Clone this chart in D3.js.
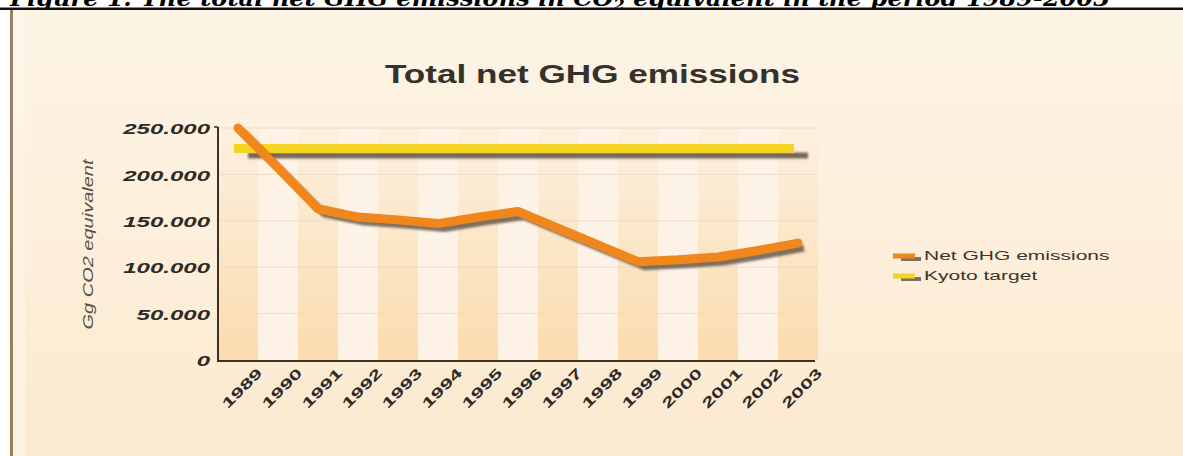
<!DOCTYPE html>
<html>
<head>
<meta charset="utf-8">
<script src="https://cdn.jsdelivr.net/npm/d3@7"></script>
<style>
    html, body { margin: 0; padding: 0; background: #ffffff; overflow: hidden; }
    svg { display: block; }
</style>
</head>
<body>
<script>

// years on the x-axis
var years = ["1989", "1990", "1991", "1992", "1993", "1994", "1995", "1996",
             "1997", "1998", "1999", "2000", "2001", "2002", "2003"];

// net GHG emissions in Gg CO2 equivalent
var netEmissions = [250000, 207000, 163000, 154000, 151000, 147000, 154000, 160000,
                    142000, 124000, 106000, 108000, 111000, 118000, 126000];

// Kyoto target, the same for every year
var kyotoTarget = [228000, 228000, 228000, 228000, 228000, 228000, 228000, 228000,
                   228000, 228000, 228000, 228000, 228000, 228000, 228000];

// y-axis ticks and their labels
var yTicks = [0, 50000, 100000, 150000, 200000, 250000];
var yTickLabels = ["0", "50.000", "100.000", "150.000", "200.000", "250.000"];

var seriesNames = ["Net GHG emissions", "Kyoto target"];

window.onload = function() {
    makeGraph();
};

/*
 * Widen a text element by a factor, the picture uses a very wide font.
 */
function widen(sel, k)
{
    sel.each(function() {
        var len = this.getComputedTextLength();
        d3.select(this)
            .attr("textLength", len * k)
            .attr("lengthAdjust", "spacingAndGlyphs");
    });
}

function makeGraph()
{
    var width = 1183,
        height = 456,
        plot = {left: 218, right: 818, top: 128, bottom: 361};

    var svg = d3.select("body").append("svg")
        .attr("width", width)
        .attr("height", height);

    var defs = svg.append("defs");

    // background of the panel
    var bg = defs.append("linearGradient")
        .attr("id", "panelGrad")
        .attr("x1", 0).attr("y1", 0).attr("x2", 0).attr("y2", 1);
    bg.append("stop").attr("offset", "0%").attr("stop-color", "#fdf4e6");
    bg.append("stop").attr("offset", "100%").attr("stop-color", "#fcead0");

    // darker stripes
    var dark = defs.append("linearGradient")
        .attr("id", "darkGrad")
        .attr("x1", 0).attr("y1", 0).attr("x2", 0).attr("y2", 1);
    dark.append("stop").attr("offset", "0%").attr("stop-color", "#fcf0df");
    dark.append("stop").attr("offset", "100%").attr("stop-color", "#fbdcae");

    // lighter stripes
    var light = defs.append("linearGradient")
        .attr("id", "lightGrad")
        .attr("x1", 0).attr("y1", 0).attr("x2", 0).attr("y2", 1);
    light.append("stop").attr("offset", "0%").attr("stop-color", "#fdf3e6");
    light.append("stop").attr("offset", "100%").attr("stop-color", "#fdf1e6");

    // blurred drop shadow (user space, a flat line has no height)
    defs.append("filter")
        .attr("id", "blur")
        .attr("filterUnits", "userSpaceOnUse")
        .attr("x", 0).attr("y", 0)
        .attr("width", width).attr("height", height)
      .append("feGaussianBlur")
        .attr("stdDeviation", 1.2);

    // caption above the panel (cut off at the top, as in the picture)
    var caption = svg.append("text")
        .attr("x", 10)
        .attr("y", 6)
        .style("font-family", "'DejaVu Serif', serif")
        .style("font-weight", "bold")
        .style("font-style", "italic")
        .style("font-size", "22px")
        .style("fill", "#000");
    caption.append("tspan").text("Figure 1: The total net GHG emissions in CO");
    caption.append("tspan").attr("dy", 4).style("font-size", "15px").text("2");
    caption.append("tspan").attr("dy", -4).text(" equivalent in the period 1989-2003");
    caption.attr("textLength", 1100).attr("lengthAdjust", "spacingAndGlyphs");

    // black rule under the caption
    svg.append("rect")
        .attr("x", 0).attr("y", 7.5)
        .attr("width", width).attr("height", 2.5)
        .attr("fill", "#111");

    // panel
    svg.append("rect")
        .attr("x", 10).attr("y", 10)
        .attr("width", width - 10).attr("height", height - 10)
        .attr("fill", "url(#panelGrad)");

    svg.append("rect")
        .attr("x", 10).attr("y", 10)
        .attr("width", 3).attr("height", height - 10)
        .attr("fill", "#9a8060");

    svg.append("rect")
        .attr("x", 13).attr("y", 10)
        .attr("width", 12).attr("height", height - 10)
        .attr("fill", "#fef6ea")
        .attr("opacity", 0.6);

    // scales
    var x = d3.scaleBand()
        .domain(years)
        .range([plot.left, plot.right])
        .padding(0);

    var y = d3.scaleLinear()
        .domain([0, 250000])
        .range([plot.bottom - 1, plot.top]);

    // stripes behind the chart
    svg.selectAll(".stripe")
        .data(years)
        .enter().append("rect")
            .attr("class", "stripe")
            .attr("x", function(d) { return x(d); })
            .attr("y", y(250000))
            .attr("width", x.bandwidth())
            .attr("height", y(0) - y(250000))
            .attr("fill", function(d, i) { return i % 2 == 0 ? "url(#darkGrad)" : "url(#lightGrad)"; });

    // horizontal grid lines
    svg.selectAll(".grid")
        .data(yTicks.slice(1))
        .enter().append("line")
            .attr("class", "grid")
            .attr("x1", plot.left)
            .attr("x2", plot.right)
            .attr("y1", function(d) { return y(d); })
            .attr("y2", function(d) { return y(d); })
            .attr("stroke", "#ecdcc6")
            .attr("stroke-width", 1);

    // axes
    var yAxis = d3.axisLeft(y)
        .tickValues(yTicks)
        .tickSize(0)
        .tickFormat(function(d, i) { return yTickLabels[i]; });

    var xAxis = d3.axisBottom(x)
        .tickSize(0);

    var gy = svg.append("g")
        .attr("transform", "translate(" + plot.left + ",0)")
        .call(yAxis);
    gy.select(".domain").remove();
    gy.selectAll("text")
        .attr("x", -8)
        .attr("dy", "0.38em")
        .style("font-family", "'Liberation Sans', Arial, sans-serif")
        .style("font-weight", "bold")
        .style("font-style", "italic")
        .style("font-size", "15px")
        .style("fill", "#2f2a25")
        .call(widen, 1.6);

    var gx = svg.append("g")
        .attr("transform", "translate(0," + plot.bottom + ")")
        .call(xAxis);
    gx.select(".domain").remove();
    gx.selectAll("text")
        .attr("x", 0)
        .attr("y", 0)
        .attr("dy", 0)
        .attr("transform", function(d) { return "translate(" + (x.bandwidth() / 2 + 5) + ",13) rotate(-45)"; })
        .style("text-anchor", "end")
        .style("font-family", "'Liberation Sans', Arial, sans-serif")
        .style("font-weight", "bold")
        .style("font-size", "14px")
        .style("fill", "#2f2a25")
        .call(widen, 1.6);

    // axis lines
    svg.append("line")
        .attr("x1", plot.left).attr("x2", plot.left)
        .attr("y1", plot.top - 1).attr("y2", plot.bottom + 1)
        .attr("stroke", "#3a3129").attr("stroke-width", 2);
    svg.append("line")
        .attr("x1", plot.left - 4).attr("x2", plot.left)
        .attr("y1", plot.top - 1).attr("y2", plot.top - 1)
        .attr("stroke", "#3a3129").attr("stroke-width", 1.5);
    svg.append("line")
        .attr("x1", plot.left).attr("x2", plot.right - 3)
        .attr("y1", plot.bottom).attr("y2", plot.bottom)
        .attr("stroke", "#3a3129").attr("stroke-width", 2);

    // lines
    var line = d3.line()
        .x(function(d, i) { return x(years[i]) + x.bandwidth() / 2; })
        .y(function(d) { return y(d); });

    // shadows first
    svg.append("path")
        .attr("d", line(kyotoTarget))
        .attr("transform", "translate(10,7)")
        .attr("fill", "none")
        .attr("stroke", "#54463a")
        .attr("stroke-opacity", 0.8)
        .attr("stroke-width", 6)
        .attr("filter", "url(#blur)");

    svg.append("path")
        .attr("d", line(kyotoTarget))
        .attr("transform", "translate(-4,0)")
        .attr("fill", "none")
        .attr("stroke", "#f4d523")
        .attr("stroke-width", 9);

    svg.append("path")
        .attr("d", line(netEmissions))
        .attr("transform", "translate(6,5)")
        .attr("fill", "none")
        .attr("stroke", "#54463a")
        .attr("stroke-opacity", 0.75)
        .attr("stroke-width", 7)
        .attr("stroke-linejoin", "round")
        .attr("filter", "url(#blur)");

    svg.append("path")
        .attr("d", line(netEmissions))
        .attr("fill", "none")
        .attr("stroke", "#f0871d")
        .attr("stroke-width", 9)
        .attr("stroke-linejoin", "round")
        .attr("stroke-linecap", "round");

    // title
    svg.append("text")
        .attr("x", 385)
        .attr("y", 83)
        .style("font-family", "'Liberation Sans', Arial, sans-serif")
        .style("font-weight", "bold")
        .style("font-size", "26px")
        .style("fill", "#37312b")
        .text("Total net GHG emissions")
        .attr("textLength", 415)
        .attr("lengthAdjust", "spacingAndGlyphs");

    // y-axis label
    svg.append("text")
        .attr("transform", "translate(93," + ((plot.top + plot.bottom) / 2) + ") rotate(-90)")
        .style("text-anchor", "middle")
        .style("font-family", "'Liberation Sans', Arial, sans-serif")
        .style("font-style", "italic")
        .style("font-size", "15px")
        .style("fill", "#5a5148")
        .text("Gg CO2 equivalent")
        .attr("textLength", 170)
        .attr("lengthAdjust", "spacingAndGlyphs");

    // legend
    var colors = ["#f0871d", "#f4d523"];
    var legend = svg.selectAll(".legend")
        .data(seriesNames)
        .enter().append("g")
            .attr("class", "legend")
            .attr("transform", function(d, i) { return "translate(893," + (256 + i * 20) + ")"; });

    legend.append("line")
        .attr("x1", 8).attr("x2", 28)
        .attr("y1", 3).attr("y2", 3)
        .attr("stroke", "#5e5042")
        .attr("stroke-opacity", 0.8)
        .attr("stroke-width", 4);

    legend.append("line")
        .attr("x1", 0).attr("x2", 22)
        .attr("y1", 0).attr("y2", 0)
        .attr("stroke", function(d, i) { return colors[i]; })
        .attr("stroke-width", 5);

    legend.append("text")
        .attr("x", 31)
        .attr("y", 4)
        .style("font-family", "'Liberation Sans', Arial, sans-serif")
        .style("font-size", "12px")
        .style("fill", "#3a342e")
        .text(function(d) { return d; })
        .call(widen, 1.75);
}
</script>
</body>
</html>
